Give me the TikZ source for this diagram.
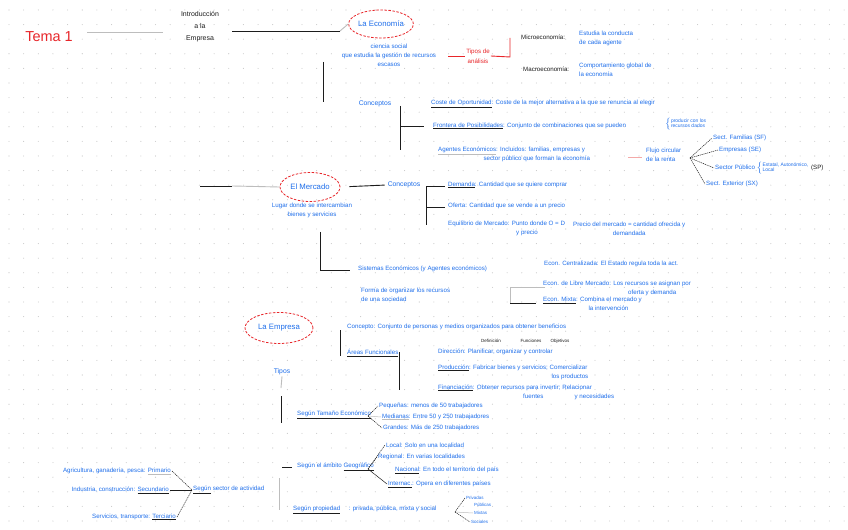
\documentclass[tikz,border=0pt]{standalone}
\usepackage{fontspec}
\setmainfont{Liberation Sans}
\usepackage{xcolor}
\usetikzlibrary{shapes.geometric,positioning}
\definecolor{penblue}{HTML}{1F6FEB}
\definecolor{penred}{HTML}{E8262A}
\definecolor{penpink}{HTML}{F4A9A8}
\definecolor{ink}{HTML}{1C1C1C}
\definecolor{faintgray}{HTML}{BDBDBD}
\definecolor{dotgray}{HTML}{C8C8C8}
\newcommand\ulk[1]{\textcolor{ink}{\underline{\textcolor{penblue}{#1}}}}
\newcommand\ulg[1]{\textcolor{faintgray}{\underline{\textcolor{penblue}{#1}}}}
\newcommand\bracetxt[1]{\(\left\{\vcenter{\hbox{\fontsize{5}{5.6}\selectfont\begin{tabular}{@{}l@{}}#1\end{tabular}}}\right.\)}
\tikzset{
  note/.style={font=\fontsize{6.2}{9}\selectfont,text=penblue,inner sep=1pt,align=left},
  pen/.style={font=\fontsize{6.2}{9}\selectfont,text=ink,inner sep=1pt},
  redpen/.style={font=\fontsize{6.2}{10}\selectfont,text=penred,inner sep=1pt,align=center},
  bubble/.style={ellipse,draw=penred,thick,dash pattern=on 2.5pt off 1.5pt,inner sep=0pt,
    minimum width=63bp,minimum height=28bp,text=penblue,font=\fontsize{7.8}{8}\selectfont},
  link/.style={ink,line width=0.9pt},
  faint/.style={faintgray,line width=0.9pt},
  redlink/.style={penred,line width=0.9pt},
  fan/.style={ink,line width=0.5pt,dash pattern=on 1.2pt off 0.8pt},
}
\begin{document}
\begin{tikzpicture}[x=1bp,y=-1bp]
  \useasboundingbox[fill=white] (0,0) rectangle (848,530);
  \foreach \i in {0,...,57} \foreach \j in {0,...,36}
    \fill[dotgray] ({9+\i*14.65},{10+\j*14.6}) circle (0.55);

  % titulo
  \node[font=\fontsize{14.5}{15}\selectfont,text=penred] (tema) at (49,37) {Tema 1};
  \node[pen,align=center,font=\fontsize{7}{12}\selectfont] (intro) at (200,27) {Introducción\\a la\\Empresa};
  \coordinate (temaout) at (87,32);
  \coordinate (introin) at (163,32);
  \draw[faint] (temaout) -- (introin);
  \coordinate (introout) at (232,31);
  \coordinate (ecoin) at (340,31);
  \draw[link] (introout) -- (ecoin);

  % la economia
  \node[bubble] (economia) at (381,24) {La Economía};
  \draw[faint] (ecoin) -- (economia.west);
  \node[note,align=center] (ecodef) at (389,55) {ciencia social\\que estudia la gestión de recursos\\escasos};
  \node[redpen] (analisis) at (478,56) {Tipos de\\análisis};
  \coordinate (redin) at (448,56);
  \coordinate (redturn) at (510,57);
  \coordinate (redtop) at (510,38);
  \draw[redlink] (redin) -- (analisis.west);
  \draw[redlink] (analisis.east) -- (redturn) -- (redtop);
  \node[pen,anchor=west] (micro) at (520,37) {Microeconomía:};
  \node[note,anchor=west] (microdef) at (578,38) {Estudia la conducta\\de cada agente};
  \node[pen,anchor=west] (macro) at (522,69) {Macroeconomía:};
  \node[note,anchor=west] (macrodef) at (578,70) {Comportamiento global de\\la economía};

  \coordinate (v1a) at (323,62);
  \coordinate (v1b) at (323,102);
  \draw[link] (v1a) -- (v1b);
  \node[note,font=\fontsize{6.8}{8}\selectfont] (conceptos) at (375,104) {Conceptos};
  \coordinate (b1top) at (400,106);
  \coordinate (b1bot) at (400,150);
  \coordinate (b1mid) at (400,126);
  \draw[link] (b1top) -- (b1bot);
  \draw[link] (b1mid) -- (424,126);
  \node[note,anchor=west] (coste) at (430,104) {\ulk{Coste de Oportunidad}: Coste de la mejor alternativa a la que se renuncia al elegir};
  \node[note,anchor=west] (frontera) at (432,126) {\ulk{Frontera de Posibilidades}: Conjunto de combinaciones que se pueden};
  \node[note,anchor=west] (fronteranota) at (664,124) {\bracetxt{producir con los\\recursos dados}};
  \node[note,anchor=west] (agentes) at (437,154) {\ulg{Agentes Económicos}: Incluidos: familias, empresas y\\\hspace*{16mm}sector público que forman la economía};
  \coordinate (pinkin) at (628,157);
  \draw[penpink,line width=0.9pt] (pinkin) -- (642,157);
  \node[note,anchor=west] (flujo) at (645,155) {Flujo circular\\de la renta};
  \coordinate (fan1) at (690,158);
  \node[note,anchor=west] (sf) at (712,138) {Sect. Familias (SF)};
  \node[note,anchor=west] (se) at (718,150) {Empresas (SE)};
  \node[note,anchor=west] (sp) at (714,168) {Sector Público \bracetxt{Estatal, Autonómico,\\Local} \textcolor{ink}{(SP)}};
  \node[note,anchor=west] (sx) at (705,184) {Sect. Exterior (SX)};
  \draw[fan] (fan1) -- (sf.west);
  \draw[fan] (fan1) -- (se.west);
  \draw[fan] (fan1) -- (sp.west);
  \draw[fan] (fan1) -- (sx.west);

  % el mercado
  \node[bubble,minimum width=60bp,minimum height=29bp] (mercado) at (310,187) {El Mercado};
  \coordinate (m0) at (200,186);
  \coordinate (m1) at (232,186);
  \draw[link] (m0) -- (m1);
  \draw[faint] (m1) -- (mercado.west);
  \node[note,align=center] (mercadodef) at (312,210) {Lugar donde se intercambian\\bienes y servicios};
  \node[note,font=\fontsize{6.8}{8}\selectfont] (conceptos2) at (404,185) {Conceptos};
  \draw[link,shorten <=9bp,shorten >=2bp] (mercado.east) -- (conceptos2.west);
  \coordinate (b2top) at (426,186);
  \coordinate (b2mid) at (426,207);
  \coordinate (b2bot) at (426,225);
  \draw[link] (b2bot) -- (b2top) -- (445,186);
  \draw[link] (b2mid) -- (445,207);
  \node[note,anchor=west] (demanda) at (447,185) {\ulk{Demanda}: Cantidad que se quiere comprar};
  \node[note,anchor=west] (oferta) at (447,206) {Oferta: Cantidad que se vende a un precio};
  \node[note,anchor=west] (equilibrio) at (447,228) {Equilibrio de Mercado: Punto donde O = D\\\hspace*{24mm}y precio};
  \node[note,anchor=west,align=center] (equinota) at (572,229) {Precio del mercado = cantidad ofrecida y\\demandada};

  \coordinate (v2a) at (320,232);
  \coordinate (v2b) at (320,270);
  \draw[link] (v2a) -- (v2b) -- (350,270);
  \node[note,anchor=west] (sistemas) at (357,269) {Sistemas Económicos (y Agentes económicos)};
  \node[note,anchor=west] (sistemasdef) at (360,295) {Forma de organizar los recursos\\de una sociedad};
  \coordinate (b3top) at (545,287);
  \coordinate (b3corner) at (510,287);
  \coordinate (b3bot) at (510,303);
  \draw[faint] (b3top) -- (b3corner) -- (b3bot);
  \draw[link] (b3bot) -- (536,303);
  \node[note,anchor=west] (centralizada) at (543,264) {Econ. Centralizada: El Estado regula toda la act.};
  \node[note,anchor=west] (libre) at (542,288) {Econ. de Libre Mercado: Los recursos se asignan por\\\hspace*{30mm}oferta y demanda};
  \node[note,anchor=west] (mixta) at (542,304) {\ulk{Econ. Mixta}: Combina el mercado y\\\hspace*{16mm}la intervención};

  % la empresa
  \node[bubble,minimum width=68bp,minimum height=31bp] (empresa) at (279,328) {La Empresa};
  \coordinate (v3a) at (340,330);
  \coordinate (v3b) at (340,356);
  \draw[link] (v3a) -- (v3b);
  \node[note,anchor=west] (concepto) at (346,327) {Concepto: Conjunto de personas y medios organizados para obtener beneficios};
  \node[note,anchor=west] (areas) at (346,353) {\ulk{Áreas Funcionales}};
  \coordinate (v4a) at (399,352);
  \coordinate (v4b) at (399,390);
  \draw[link] (v4a) -- (v4b);
  \node[pen,font=\fontsize{4.5}{5}\selectfont] (h1) at (491,341) {Definición};
  \node[pen,font=\fontsize{4.5}{5}\selectfont] (h2) at (531,341) {Funciones};
  \node[pen,font=\fontsize{4.5}{5}\selectfont] (h3) at (560,341) {Objetivos};
  \node[note,anchor=west] (direccion) at (437,352) {Dirección: Planificar, organizar y controlar};
  \node[note,anchor=west] (produccion) at (437,372) {\ulk{Producción}: Fabricar bienes y servicios; Comercializar\\\hspace*{40mm}los productos};
  \node[note,anchor=west] (financiacion) at (437,392) {\ulk{Financiación}: Obtener recursos para invertir; Relacionar\\\hspace*{30mm}fuentes\hspace*{11mm}y necesidades};

  % tipos
  \node[note,font=\fontsize{6.8}{8}\selectfont] (tipos) at (282,372) {Tipos};
  \coordinate (t1) at (281,388);
  \coordinate (t2) at (281,396);
  \coordinate (t3) at (281,423);
  \draw[faint] (tipos.south) -- (t1);
  \draw[link] (t2) -- (t3);
  \node[note,anchor=west] (tamano) at (296,415) {\ulk{Según Tamaño Económico}};
  \coordinate (fan2) at (368,416);
  \node[note,anchor=west] (pequena) at (378,406) {Pequeñas: menos de 50 trabajadores};
  \node[note,anchor=west] (mediana) at (381,417) {\ulg{Medianas}: Entre 50 y 250 trabajadores};
  \node[note,anchor=west] (grande) at (382,428) {Grandes: Más de 250 trabajadores};
  \draw[fan] (fan2) -- (pequena.west);
  \draw[faint,line width=0.5pt] (fan2) -- (mediana.west);
  \draw[fan] (fan2) -- (grande.west);

  \coordinate (t4) at (282,467);
  \coordinate (t5) at (279,478);
  \coordinate (t6) at (279,510);
  \draw[link] (t4) -- (292,467);
  \draw[faint] (t5) -- (t6);
  \node[note,anchor=west] (ambito) at (296,467) {Según el ámbito \ulk{Geográfico}};
  \coordinate (fan3) at (368,469);
  \node[note,anchor=west] (local) at (385,445) {Local: Solo en una localidad};
  \node[note,anchor=west] (regional) at (377,457) {Regional: En varias localidades};
  \node[note,anchor=west] (nacional) at (394,470) {\ulk{Nacional}: En todo el territorio del país};
  \node[note,anchor=west] (internacional) at (387,484) {\ulk{Internac.}: Opera en diferentes países};
  \draw[fan] (fan3) -- (local.west);
  \draw[fan] (fan3) -- (regional.west);
  \draw[link,line width=0.5pt] (fan3) -- (internacional.west);

  \node[note,anchor=west] (propiedad) at (292,510) {\ulk{Según propiedad}\hspace*{3mm}: privada, pública, mixta y social};
  \coordinate (fan4) at (455,512);
  \node[note,anchor=west,font=\fontsize{4.5}{5}\selectfont] (privada) at (465,498) {Privadas};
  \node[note,anchor=west,font=\fontsize{4.5}{5}\selectfont] (publica) at (473,505) {Públicas};
  \node[note,anchor=west,font=\fontsize{4.5}{5}\selectfont] (mixtas) at (473,513) {Mixtas};
  \node[note,anchor=west,font=\fontsize{4.5}{5}\selectfont] (social) at (470,522) {Sociales};
  \draw[fan] (fan4) -- (privada.west);
  \draw[faint,line width=0.5pt] (fan4) -- (mixtas.west);
  \draw[fan] (fan4) -- (social.west);

  \node[note,anchor=west] (sector) at (192,490) {\ulk{Según} sector de actividad};
  \node[note,anchor=east] (primario) at (172,471) {Agricultura, ganadería, pesca: \ulg{Primario}};
  \node[note,anchor=east] (secundario) at (170,490) {Industria, construcción: \ulk{Secundario}};
  \node[note,anchor=east] (terciario) at (177,517) {Servicios, transporte: \ulk{Terciario}};
  \draw[fan] (primario.east) -- (sector.west);
  \draw[link] (secundario.east) -- (sector.west);
  \draw[fan] (terciario.east) -- (sector.west);
\end{tikzpicture}
\end{document}
